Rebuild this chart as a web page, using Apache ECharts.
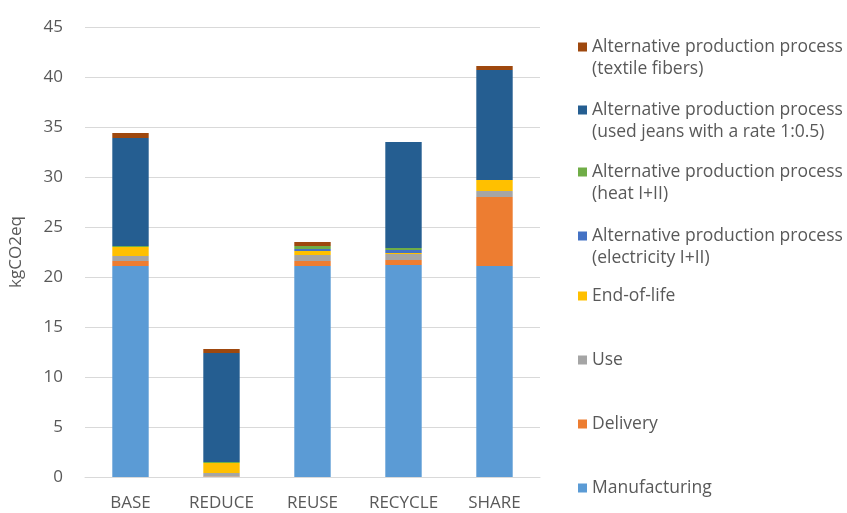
<!DOCTYPE html>
<html>
<head>
<meta charset="utf-8">
<script src="https://cdn.jsdelivr.net/npm/echarts@6/dist/echarts.min.js"></script>
<style>
html,body{margin:0;padding:0;background:#fff;}
#chart{width:847px;height:513px;}
</style>
</head>
<body>
<div id="chart"></div>
<script>
var categories = ['BASE', 'REDUCE', 'REUSE', 'RECYCLE', 'SHARE'];
var yTicks = [0, 5, 10, 15, 20, 25, 30, 35, 40, 45];

// stacked from bottom to top
var manufacturing = [21.1, 0, 21.1, 21.2, 21.1];
var delivery      = [0.5, 0.05, 0.5, 0.5, 6.9];
var use           = [0.5, 0.35, 0.6, 0.6, 0.6];
var endOfLife     = [0.9, 1.0, 0.4, 0.1, 1.1];
var electricity   = [0, 0, 0.2, 0.3, 0];
var heat          = [0.1, 0.1, 0.3, 0.2, 0];
var usedJeans     = [10.8, 10.9, 0, 10.6, 11.0];
var textile       = [0.5, 0.4, 0.4, 0, 0.4];

var seriesNames = [
  'Manufacturing',
  'Delivery',
  'Use',
  'End-of-life',
  'Alternative production process (electricity I+II)',
  'Alternative production process (heat I+II)',
  'Alternative production process (used jeans with a rate 1:0.5)',
  'Alternative production process (textile fibers)'
];
var legendLines = [
  ['Manufacturing'],
  ['Delivery'],
  ['Use'],
  ['End-of-life'],
  ['Alternative production process', '(electricity I+II)'],
  ['Alternative production process', '(heat I+II)'],
  ['Alternative production process', '(used jeans with a rate 1:0.5)'],
  ['Alternative production process', '(textile fibers)']
];
var seriesData = [manufacturing, delivery, use, endOfLife, electricity, heat, usedJeans, textile];
var colors = ['#5b9bd5', '#ed7d31', '#a5a5a5', '#ffc000', '#4472c4', '#70ad47', '#255e91', '#9e480e'];

var FONT = '"Open Sans", "Liberation Sans", sans-serif';
var TXT = '#595959';

var legendFirstLineY = [488, 424, 360, 296, 236, 172, 110, 47];

var legends = seriesNames.map(function (n, i) {
  var lines = legendLines[i];
  var two = lines.length > 1;
  return {
    orient: 'vertical',
    left: 578,
    top: two ? legendFirstLineY[i] - 33 : legendFirstLineY[i] - 11,
    padding: 0,
    itemWidth: 9,
    itemHeight: 9,
    itemGap: 4,
    icon: 'rect',
    selectedMode: false,
    data: [n],
    formatter: function () {
      return two ? '\n' + lines[0] + '\n' + lines[1] : lines[0];
    },
    textStyle: { fontFamily: FONT, fontSize: 17.5, lineHeight: 22, color: TXT, padding: [0, 0, 0, 0] }
  };
});

var series = seriesNames.map(function (n, i) {
  return {
    name: n,
    type: 'bar',
    stack: 'total',
    barWidth: '40%',
    data: seriesData[i],
    itemStyle: { color: colors[i] }
  };
});

var chart = echarts.init(document.getElementById('chart'), null, { renderer: 'canvas' });
chart.setOption({
  animation: false,
  color: colors,
  legend: legends,
  grid: { left: 85, right: 307, top: 27, bottom: 36, containLabel: false },
  xAxis: {
    type: 'category',
    data: categories,
    axisLine: { lineStyle: { color: '#d9d9d9', width: 1 } },
    axisTick: { show: false },
    axisLabel: { fontFamily: FONT, fontSize: 17, color: TXT, margin: 18 }
  },
  yAxis: {
    type: 'value',
    min: yTicks[0],
    max: yTicks[yTicks.length - 1],
    interval: yTicks[1] - yTicks[0],
    name: 'kgCO2eq',
    nameLocation: 'middle',
    nameRotate: 90,
    nameGap: 60,
    nameTextStyle: { fontFamily: FONT, fontSize: 17, color: TXT },
    axisLine: { show: false },
    axisTick: { show: false },
    splitLine: { lineStyle: { color: '#d9d9d9', width: 1 } },
    axisLabel: { fontFamily: FONT, fontSize: 17, color: TXT, margin: 22 }
  },
  series: series
});
</script>
</body>
</html>
